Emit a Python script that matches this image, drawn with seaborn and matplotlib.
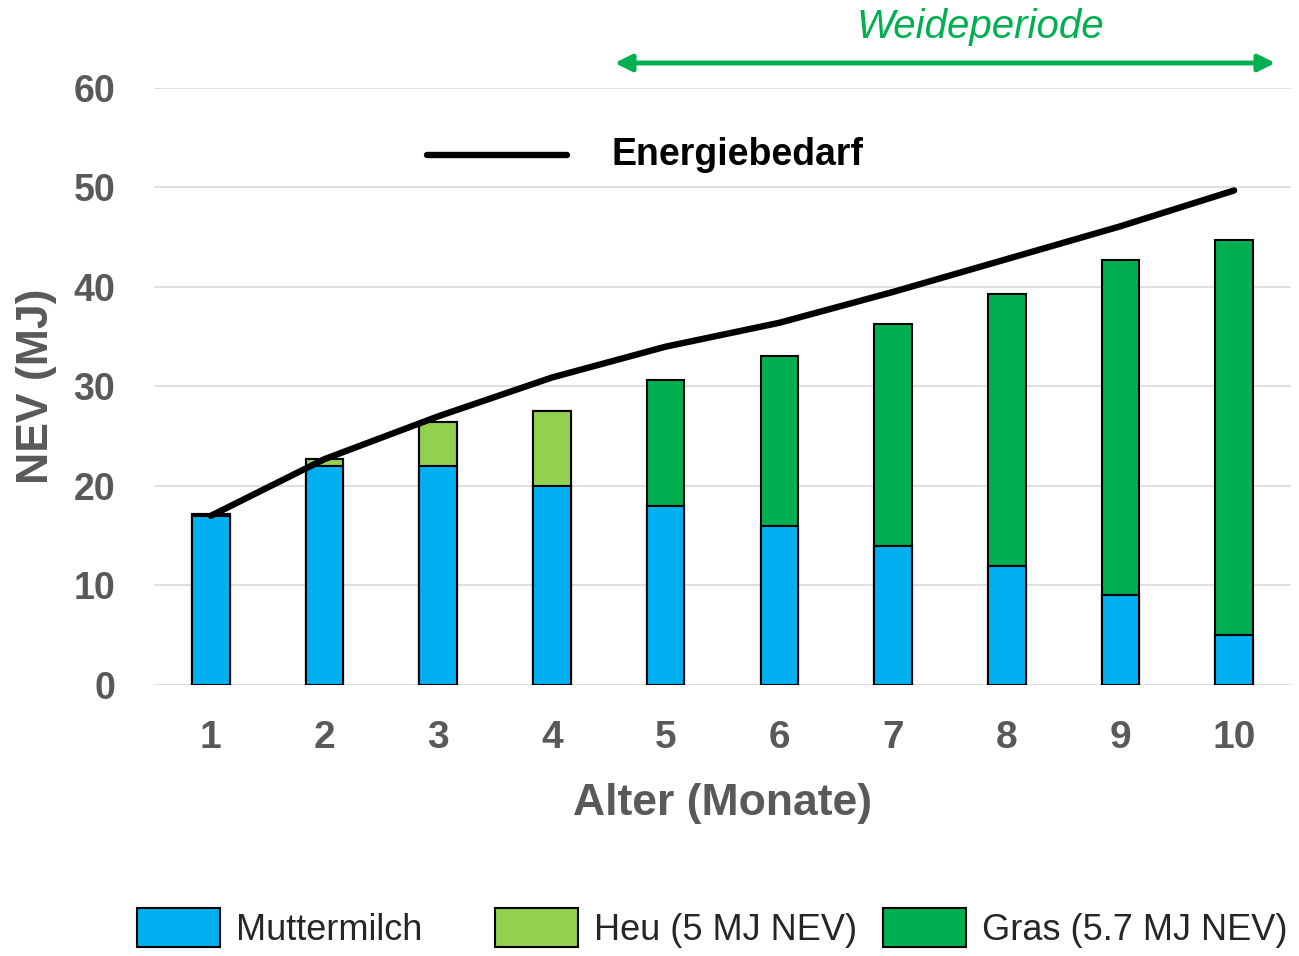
import matplotlib
matplotlib.use('Agg')
import matplotlib.pyplot as plt
import numpy as np
import seaborn as sns
from matplotlib.lines import Line2D
from matplotlib.patches import FancyArrowPatch, Patch

months = ['1', '2', '3', '4', '5', '6', '7', '8', '9', '10']
muttermilch = np.array([17, 22, 22, 20, 18, 16, 14, 12, 9, 5])
heu = np.array([0.2, 0.7, 4.4, 7.5, 0, 0, 0, 0, 0, 0])
gras = np.array([0, 0, 0, 0, 12.6, 17.1, 22.3, 27.3, 33.7, 39.7])
energiebedarf = [17, 22.7, 27.0, 30.9, 34.0, 36.4, 39.5, 42.8, 46.1, 49.7]

c_milch = '#00B0F0'
c_heu = '#92D050'
c_gras = '#00B050'
grey = '#595959'

sns.set_theme(style='white')
plt.rcParams['font.family'] = ['Liberation Sans', 'DejaVu Sans']

fig = plt.figure(figsize=(12.99, 9.56), dpi=100)
ax = fig.add_axes([154 / 1299, 0.2835, 1137 / 1299, 0.6245])

# stacked bars drawn as layered cumulative totals
total = muttermilch + heu + gras
sns.barplot(x=months, y=total, color=c_gras, width=0.33, edgecolor='black',
            linewidth=1.5, saturation=1, errorbar=None, ax=ax)
sns.barplot(x=months, y=muttermilch + heu, color=c_heu, width=0.33, edgecolor='black',
            linewidth=1.5, saturation=1, errorbar=None, ax=ax)
sns.barplot(x=months, y=muttermilch, color=c_milch, width=0.33, edgecolor='black',
            linewidth=1.5, saturation=1, errorbar=None, ax=ax)

sns.lineplot(x=np.arange(len(months)), y=energiebedarf, color='black', linewidth=4.6,
             ax=ax, zorder=5, solid_capstyle='round')

ax.set_xlim(-0.5, 9.5)
ax.set_ylim(0, 60)
ax.set_yticks(range(0, 61, 10))
ax.yaxis.grid(True, color='#D9D9D9', linewidth=1.2)
ax.set_axisbelow(True)
for s in ax.spines.values():
    s.set_visible(False)
ax.tick_params(axis='y', length=0, pad=28, labelsize=27, labelcolor=grey)
ax.tick_params(axis='x', length=0, pad=25, labelsize=28, labelcolor=grey)
for lab in ax.get_xticklabels() + ax.get_yticklabels():
    lab.set_fontweight('bold')
ax.set_xlabel('Alter (Monate)', fontsize=32, fontweight='bold', color=grey, labelpad=20)
ax.set_ylabel('NEV (MJ)', fontsize=32, fontweight='bold', color=grey, labelpad=12)

# Energiebedarf key
fig.add_artist(Line2D([427 / 1299, 567 / 1299], [1 - 155 / 956] * 2,
                      transform=fig.transFigure, color='black', linewidth=4.6))
fig.text(611 / 1299, 1 - 155 / 956, 'Energiebedarf', fontsize=27, fontweight='bold',
         va='center', ha='left', color='black')

# Weideperiode arrow
fig.add_artist(FancyArrowPatch((612 / 1299, 1 - 63 / 956), (1278 / 1299, 1 - 63 / 956),
                               transform=fig.transFigure, arrowstyle='<|-|>',
                               mutation_scale=25, linewidth=3.5, color=c_gras))
fig.text(980 / 1299, 1 - 27 / 956, 'Weideperiode', fontsize=29, style='italic',
         color=c_gras, ha='center', va='center')

# bottom legend, one entry at a time
entries = [('Muttermilch', c_milch, 137), ('Heu (5 MJ NEV)', c_heu, 495),
           ('Gras (5.7 MJ NEV)', c_gras, 883)]
for label, col, xpx in entries:
    fig.legend(handles=[Patch(facecolor=col, edgecolor='black', linewidth=1.5, label=label)],
               loc='center left', bbox_to_anchor=(xpx / 1299, 1 - 928 / 956),
               frameon=False, fontsize=26, handlelength=2.3, handleheight=1.3,
               handletextpad=0.45, borderpad=0, borderaxespad=0)

fig.savefig('out.png', dpi=100)
